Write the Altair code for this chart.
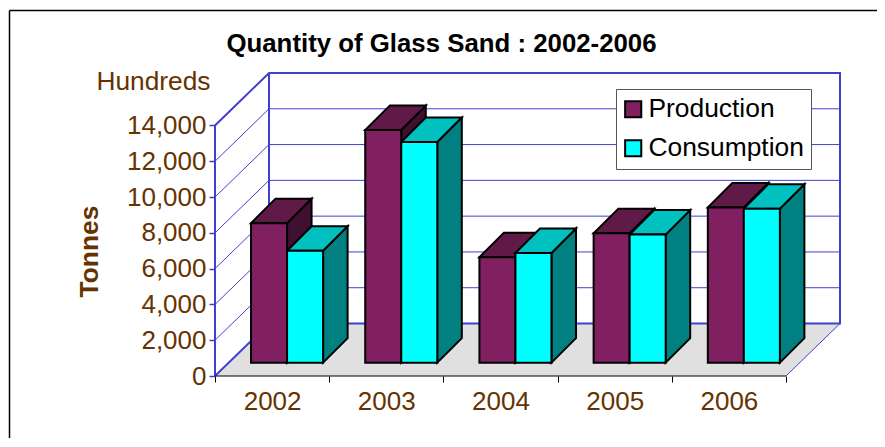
import altair as alt
import pandas as pd

years = ["2002", "2003", "2004", "2005", "2006"]
production = [7800, 13000, 5900, 7230, 8680]
consumption = [6260, 12330, 6130, 7160, 8610]
series_names = ["Production", "Consumption"]
y_ticks = [0, 2000, 4000, 6000, 8000, 10000, 12000, 14000]
x_edges = [0, 1, 2, 3, 4, 5]
x_centres = [0.5, 1.5, 2.5, 3.5, 4.5]

BROWN = "#663300"
BLUE = "#4040d0"
FONT = "Liberation Sans"

# 3-D geometry expressed in scale units
DEPTH_X = 0.473
DEPTH_Y = 2933
N = len(years)
X_TOP = N + DEPTH_X
Y_TOP = 14000 + DEPTH_Y
BAR_W = 0.3155
BAR_DX = 0.2147
BAR_DY = 1369
BAR_BASE = 743

W, H = 625, 303
x_scale = alt.Scale(domain=[0, X_TOP], range=[0, W], nice=False, zero=False)
y_scale = alt.Scale(domain=[0, Y_TOP], range=[H, 0], nice=False, zero=False)
X = lambda f: alt.X(f, type="quantitative", scale=x_scale, axis=None)
Y = lambda f: alt.Y(f, type="quantitative", scale=y_scale, axis=None)

# floor
floor = pd.DataFrame({"y": [0, DEPTH_Y], "x": [0, DEPTH_X], "x2": [N, N + DEPTH_X]})
floor_layer = alt.Chart(floor).mark_area(orient="horizontal", color="#e0e0e0").encode(
    y=Y("y"), x=X("x"), x2="x2"
)

# thin wall grid
grid_rows = []
for v in y_ticks[1:-1]:
    grid_rows += [
        dict(k=v, o=0, x=0, y=v),
        dict(k=v, o=1, x=DEPTH_X, y=v + DEPTH_Y),
        dict(k=v, o=2, x=X_TOP, y=v + DEPTH_Y),
    ]
grid_rows += [dict(k=-1, o=0, x=N, y=0), dict(k=-1, o=1, x=X_TOP, y=DEPTH_Y)]
grid_layer = alt.Chart(pd.DataFrame(grid_rows)).mark_line(color=BLUE, strokeWidth=1).encode(
    x=X("x"), y=Y("y"), detail="k:N", order="o:Q"
)

# thick wall frame
frame_rows = []
for k, pts in enumerate([
    [(0, 0), (0, 14000), (DEPTH_X, Y_TOP), (X_TOP, Y_TOP), (X_TOP, DEPTH_Y), (DEPTH_X, DEPTH_Y), (0, 0)],
    [(DEPTH_X, DEPTH_Y), (DEPTH_X, Y_TOP)],
]):
    frame_rows += [dict(k=k, o=i, x=p[0], y=p[1]) for i, p in enumerate(pts)]
frame_layer = alt.Chart(pd.DataFrame(frame_rows)).mark_line(color=BLUE, strokeWidth=2).encode(
    x=X("x"), y=Y("y"), detail="k:N", order="o:Q"
)

# front edge of the floor
edge_layer = alt.Chart(pd.DataFrame({"x": [0], "x2": [N], "y": [0]})).mark_rule(
    color="black", strokeWidth=1.2
).encode(x=X("x"), x2="x2", y=Y("y"))

# axes
y_axis_layer = alt.Chart(pd.DataFrame({"y": y_ticks})).mark_point(opacity=0).encode(
    y=alt.Y("y:Q", scale=y_scale, axis=alt.Axis(
        orient="left", values=y_ticks, format=",d", domain=False, grid=False, title="Tonnes",
        tickColor=BLUE, tickSize=6, tickWidth=1.5, labelColor=BROWN, labelFontSize=26,
        labelFont=FONT, labelPadding=3, titleColor=BROWN, titleFont=FONT, titleFontSize=26.4,
        titleFontWeight="bold", titleX=-112, titleY=178, titleAnchor="middle",
    ))
)
x_tick_layer = alt.Chart(pd.DataFrame({"x": x_edges})).mark_point(opacity=0).encode(
    x=alt.X("x:Q", scale=x_scale, axis=alt.Axis(
        orient="bottom", values=x_edges, labels=False, domain=False, grid=False, title=None,
        tickColor="black", tickSize=6, tickWidth=1,
    ))
)
label_expr = "[" + ",".join(f"'{y}'" for y in years) + "][floor(datum.value)]"
x_label_layer = alt.Chart(pd.DataFrame({"x": x_centres})).mark_point(opacity=0).encode(
    x=alt.X("x:Q", scale=x_scale, axis=alt.Axis(
        orient="bottom", values=x_centres, labelExpr=label_expr, domain=False, grid=False, title=None,
        ticks=False, labelColor=BROWN, labelFontSize=26, labelFont=FONT, labelPadding=12.5,
    ))
)

# bars
colors = {
    "Production": ("#802060", "#601a48", "#401030"),
    "Consumption": ("#00ffff", "#00c0c0", "#008080"),
}
values = {"Production": production, "Consumption": consumption}
STROKE = dict(stroke="black", strokeWidth=2, strokeJoin="miter")

front_rows = []
bar_layers = []
for s_i, name in enumerate(series_names):
    side_rows, top_rows = [], []
    for i, v in enumerate(values[name]):
        x0 = i + BAR_W * (1 + s_i)
        x1 = x0 + BAR_W
        h = BAR_BASE + v
        front_rows.append(dict(series=name, x=x0, x2=x1, y=BAR_BASE, y2=h))
        side_rows += [
            dict(k=i, x=x1, y=h, y2=BAR_BASE),
            dict(k=i, x=x1 + BAR_DX, y=h + BAR_DY, y2=BAR_BASE + BAR_DY),
        ]
        top_rows += [
            dict(k=i, y=h, x=x0, x2=x1),
            dict(k=i, y=h + BAR_DY, x=x0 + BAR_DX, x2=x1 + BAR_DX),
        ]
    front, top, side = colors[name]
    bar_layers.append(alt.Chart(pd.DataFrame(side_rows)).mark_area(fill=side, **STROKE).encode(
        x=X("x"), y=Y("y"), y2="y2", detail="k:N"
    ))
    bar_layers.append(alt.Chart(pd.DataFrame(top_rows)).mark_area(orient="horizontal", fill=top, **STROKE).encode(
        y=Y("y"), x=X("x"), x2="x2", detail="k:N"
    ))

front_layer = alt.Chart(pd.DataFrame(front_rows)).mark_rect(**STROKE).encode(
    x=X("x"), x2="x2", y=Y("y"), y2="y2",
    fill=alt.Fill("series:N", scale=alt.Scale(
        domain=series_names, range=[colors[n][0] for n in series_names]
    ), legend=alt.Legend(
        orient="none", legendX=401, legendY=16, title=None, fillColor="white",
        strokeColor="#555555", padding=7, symbolType="square", symbolSize=260,
        symbolOffset=-3, symbolStrokeColor="black", symbolStrokeWidth=2, labelFont=FONT,
        labelFontSize=26.4, labelColor="black", rowPadding=12, labelOffset=2, labelLimit=300,
        labelExpr="datum.label + ' '",
    )),
)

# free-standing text and outer frame
hundreds_layer = alt.Chart(pd.DataFrame({"t": ["Hundreds"]})).mark_text(
    align="right", baseline="alphabetic", font=FONT, fontSize=26.3, color=BROWN
).encode(text="t:N", x=alt.value(-4.5), y=alt.value(17))
outer_top = alt.Chart(pd.DataFrame({"a": [0]})).mark_rule(color="black", strokeWidth=1.5).encode(
    x=alt.value(-205.5), x2=alt.value(662), y=alt.value(-62.5)
)
outer_left = alt.Chart(pd.DataFrame({"a": [0]})).mark_rule(color="black", strokeWidth=1.5).encode(
    y=alt.value(-62.5), y2=alt.value(370), x=alt.value(-205.5)
)

chart = alt.layer(
    outer_top, outer_left, floor_layer, grid_layer, frame_layer, edge_layer,
    y_axis_layer, x_tick_layer, x_label_layer,
    *bar_layers, front_layer, hundreds_layer,
).resolve_axis(x="independent", y="independent").properties(
    width=W, height=H,
    autosize=alt.AutoSizeParams(type="none"),
    padding={"left": 207, "top": 65, "right": 37, "bottom": 62},
    background="white",
    title=alt.TitleParams(
        "Quantity of Glass Sand : 2002-2006", font=FONT, fontSize=25.8, fontWeight="bold",
        color="black", anchor="middle", dx=-86, offset=-48,
    ),
).configure_view(stroke=None)

chart.save("out.html", embed_options={"renderer": "svg", "actions": False})
